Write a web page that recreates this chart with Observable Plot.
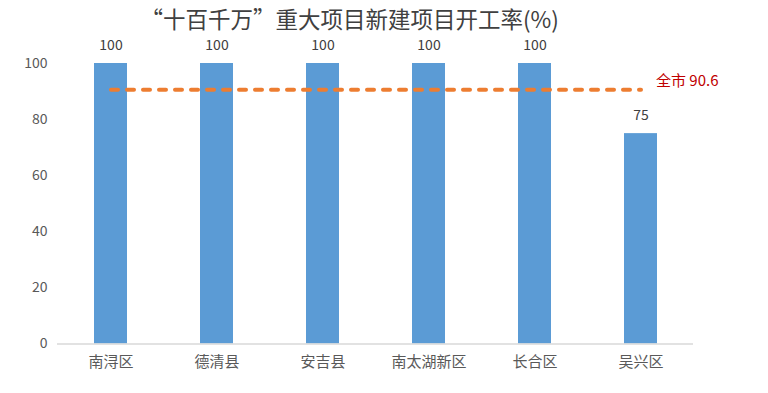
<!DOCTYPE html>
<html>
<head>
<meta charset="utf-8">
<script src="https://cdn.jsdelivr.net/npm/d3@7"></script>
<script src="https://cdn.jsdelivr.net/npm/@observablehq/plot@0.6"></script>
<style>
  html, body { margin: 0; padding: 0; background: #fff; }
</style>
</head>
<body>
<div id="chart"></div>
<script>
const title = "“十百千万”重大项目新建项目开工率(%)";
const categories = ["南浔区", "德清县", "安吉县", "南太湖新区", "长合区", "吴兴区"];
const rates = [100, 100, 100, 100, 100, 75];
const cityAvg = 90.6;
const cityLabel = "全市 90.6";
const yTicks = [0, 20, 40, 60, 80, 100];

const data = categories.map((c, i) => ({cat: c, value: rates[i]}));
const avgLine = categories.map(c => ({cat: c, value: cityAvg}));

const chart = Plot.plot({
  width: 768,
  height: 393,
  marginLeft: 57,
  marginRight: 75,
  marginTop: 63,
  marginBottom: 49.5,
  style: {fontFamily: "'Noto Sans CJK SC', sans-serif", background: "#fff"},
  x: {domain: categories, paddingInner: 0.69, paddingOuter: 0.345, label: null},
  y: {domain: [0, 100], ticks: yTicks, label: null},
  marks: [
    Plot.axisY({ticks: yTicks, tickSize: 0, tickPadding: 10, fontSize: 14, color: "#595959", label: null}),
    Plot.axisX({tickSize: 0, tickPadding: 12, fontSize: 15, color: "#595959", label: null}),
    Plot.barY(data, {x: "cat", y: "value", fill: "#5B9BD5"}),
    Plot.ruleY([0], {stroke: "#D9D9D9", strokeWidth: 1.5}),
    Plot.text(data, {x: "cat", y: "value", text: d => String(d.value), dy: -18, fontSize: 14, fill: "#404040"}),
    Plot.lineY(avgLine, {x: "cat", y: "value", stroke: "#ED7D31", strokeWidth: 4, strokeDasharray: "7,9", strokeLinecap: "round"}),
    Plot.text([cityAvg], {x: () => categories[categories.length - 1], y: d => d, text: () => cityLabel, dx: 15, dy: -9, textAnchor: "start", fontSize: 15, fill: "#C00000"}),
    Plot.text([title], {frameAnchor: "top-left", dx: 83, dy: -43, text: d => d, textAnchor: "start", lineAnchor: "middle", fontSize: 22.5, fill: "#404040"})
  ]
});
document.getElementById("chart").appendChild(chart);
</script>
</body>
</html>
